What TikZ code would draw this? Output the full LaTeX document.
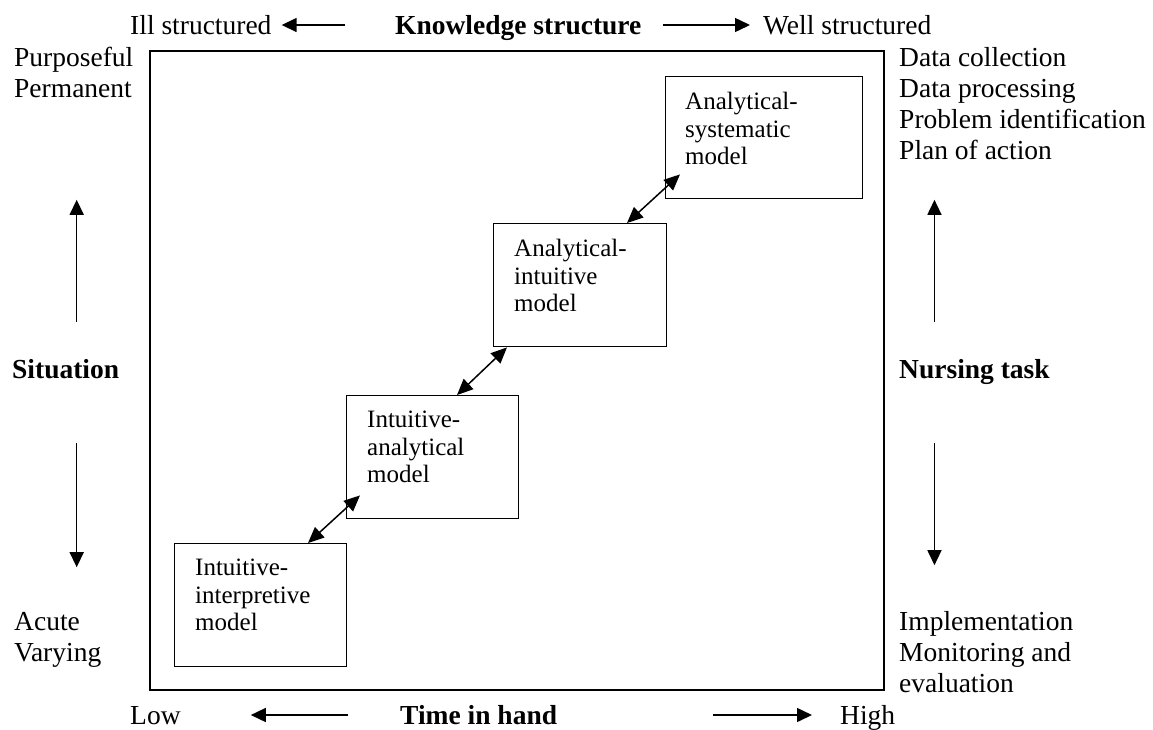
\documentclass[tikz,border=0pt]{standalone}
\usepackage{fontspec}
\setmainfont{Liberation Serif}
\usetikzlibrary{arrows.meta}

\tikzset{
  side/.style={
    inner sep=0pt,
    anchor=base west,
    text height=18pt,
    text depth=0pt,
    font=\fontsize{27.5}{31}\selectfont
  },
  head/.style={
    side,
    font=\fontsize{27.5}{31}\selectfont\bfseries
  },
  modelbox/.style={
    draw,
    line width=1.4pt,
    anchor=north west,
    inner sep=0pt
  },
  modeltext/.style={
    anchor=north west,
    align=left,
    inner sep=0pt,
    font=\fontsize{25}{27.5}\selectfont
  },
  arr/.style={line width=1.5pt, -{Triangle[length=15pt,width=14pt]}},
  darr/.style={line width=1.5pt, {Triangle[length=16pt,width=14pt]}-{Triangle[length=16pt,width=14pt]}}
}

\begin{document}
\begin{tikzpicture}[x=1pt, y=-1pt]
    \useasboundingbox (0,0) rectangle (1153,729);

    % top
    \node[side] (ill) at (130, 34) {Ill structured};
    \node[head] (know) at (395, 34) {Knowledge structure};
    \node[side] (well) at (763, 34) {Well structured};
    \draw[arr] ([xshift=-50pt]know.west) to ([xshift=10pt]ill.east);
    \draw[arr] ([xshift=21pt]know.east) to ([xshift=-13pt]well.west);

    % bottom
    \node[side] (low) at (130, 724) {Low};
    \node[head] (time) at (400, 724) {Time in hand};
    \node[side] (high) at (840, 724) {High};
    \draw[arr] ([xshift=-52pt]time.west) to ([xshift=70pt]low.east);
    \draw[arr] ([xshift=156pt]time.east) to ([xshift=-28pt]high.west);

    % left
    \node[side] (purp) at (14, 66) {Purposeful};
    \node[side] (perm) at (14, 97) {Permanent};
    \node[head] (sit) at (12, 378) {Situation};
    \node[side] (acute) at (14, 630) {Acute};
    \node[side] (vary) at (14, 661) {Varying};
    \draw[arr] ([xshift=11pt, yshift=38pt]sit.north) to ([xshift=11pt, yshift=160pt]sit.north);
    \draw[arr] ([xshift=11pt, yshift=-65pt]sit.south) to ([xshift=11pt, yshift=-189pt]sit.south);

    % right
    \node[side] (coll) at (899, 66) {Data collection};
    \node[side] (proc) at (899, 97) {Data processing};
    \node[side] (ident) at (899, 128) {Problem identification};
    \node[side] (plan) at (899, 159) {Plan of action};
    \node[head] (task) at (899, 378) {Nursing task};
    \node[side] (impl) at (899, 630) {Implementation};
    \node[side] (moni) at (899, 661) {Monitoring and};
    \node[side] (eval) at (899, 692) {evaluation};
    \draw[arr] ([xshift=-40pt, yshift=38pt]task.north) to ([xshift=-40pt, yshift=160pt]task.north);
    \draw[arr] ([xshift=-40pt, yshift=-65pt]task.south) to ([xshift=-40pt, yshift=-187pt]task.south);

    % frame
    \draw[line width=1.4pt] (150, 51) rectangle (884, 690);

    % models
    \node[modelbox, minimum width=172pt, minimum height=123pt] (model1) at (174, 543) {};
    \node[modelbox, minimum width=172pt, minimum height=123pt] (model2) at (346, 395) {};
    \node[modelbox, minimum width=173pt, minimum height=123pt] (model3) at (493, 223) {};
    \node[modelbox, minimum width=197pt, minimum height=122pt] (model4) at (665, 76) {};

    \node[modeltext] (name1) at ([xshift=21pt, yshift=-16pt]model1.north west) {Intuitive-\\interpretive\\model};
    \node[modeltext] (name2) at ([xshift=21pt, yshift=-16pt]model2.north west) {Intuitive-\\analytical\\model};
    \node[modeltext] (name3) at ([xshift=21pt, yshift=-16pt]model3.north west) {Analytical-\\intuitive\\model};
    \node[modeltext] (name4) at ([xshift=20pt, yshift=-16pt]model4.north west) {Analytical-\\systematic\\model};

    \draw[darr] ([xshift=134pt]model1.north west) to ([xshift=14pt, yshift=24pt]model2.south west);
    \draw[darr] ([xshift=111pt]model2.north west) to ([xshift=14pt]model3.south west);
    \draw[darr] ([xshift=134pt]model3.north west) to ([xshift=15pt, yshift=25pt]model4.south west);
  \end{tikzpicture}
\end{document}
